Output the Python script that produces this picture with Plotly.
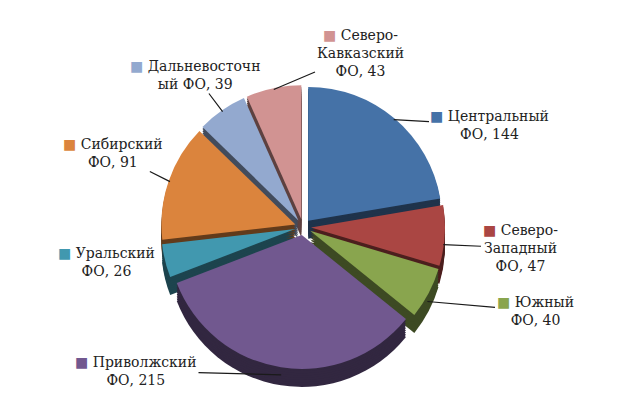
import plotly.graph_objects as go
import numpy as np

# data
regions = ["Центральный", "Северо-Западный", "Южный", "Приволжский",
           "Уральский", "Сибирский", "Дальневосточный", "Северо-Кавказский"]
counts = [144, 47, 40, 215, 26, 91, 39, 43]
# label text as wrapped in the original
label_lines = [
    ["Центральный", "ФО, 144"],
    ["Северо-", "Западный", "ФО, 47"],
    ["Южный", "ФО, 40"],
    ["Приволжский", "ФО, 215"],
    ["Уральский", "ФО, 26"],
    ["Сибирский", "ФО, 91"],
    ["Дальневосточн", "ый ФО, 39"],
    ["Северо-", "Кавказский", "ФО, 43"],
]

colors = ["#4572A7", "#AA4643", "#89A54E", "#71588F",
          "#4198AF", "#DB843D", "#93A9CF", "#D19392"]

# page / pie geometry (pixels)
W, H = 619, 417
CX, CY = 295, 219
HALF = 142          # half of domain size
PULL = 0.06
DEPTH = 18
R = HALF / (1 + PULL)

# where label blocks sit (pixel centres) and whether they get a leader line
label_px = [(482, 117), (512, 240), (527, 303), (128, 363),
            (98, 254), (105, 145), (187, 67), (352, 45)]
leader = [True, True, True, True, False, True, True, True]

FONT = dict(family="DejaVu Serif", size=14, color="#222222")


def darken(hx, f):
    r, g, b = int(hx[1:3], 16), int(hx[3:5], 16), int(hx[5:7], 16)
    return "rgb(%d,%d,%d)" % (r * f, g * f, b * f)


def domain(cy):
    return dict(x=[(CX - HALF) / W, (CX + HALF) / W],
                y=[1 - (cy + HALF) / H, 1 - (cy - HALF) / H])


fig = go.Figure()

# side wall: a stack of darker copies pushed down
for off in np.linspace(DEPTH, 2, 8):
    fig.add_trace(go.Pie(
        values=counts, labels=regions, sort=False, direction="clockwise",
        rotation=0, pull=PULL, textinfo="none", hoverinfo="skip",
        marker=dict(colors=[darken(c, 0.45) for c in colors], line=dict(width=0)),
        domain=domain(CY + off), showlegend=False,
    ))

# top face
fig.add_trace(go.Pie(
    values=counts, labels=regions, sort=False, direction="clockwise",
    rotation=0, pull=PULL, textinfo="none",
    marker=dict(colors=colors, line=dict(width=0)),
    domain=domain(CY), showlegend=False,
))

# labels with coloured square and leader lines to slice edge
total = sum(counts)
start = 0
for i, v in enumerate(counts):
    mid = np.radians((start + v / 2) / total * 360)
    start += v
    rt = R * (1 + PULL) * 0.99
    tx = CX + rt * np.sin(mid)
    ty = CY - rt * np.cos(mid)
    if np.cos(mid) < 0:
        ty += DEPTH * 0.5
    lines = list(label_lines[i])
    lines[0] = "<span style='color:%s'>■</span> %s" % (colors[i], lines[0])
    text = "<br>".join(lines)
    lx, ly = label_px[i]
    if leader[i]:
        fig.add_annotation(x=tx / W, y=1 - ty / H, xref="paper", yref="paper",
                           ax=lx - tx, ay=ly - ty, axref="pixel", ayref="pixel",
                           text=text, showarrow=True, arrowhead=0,
                           arrowwidth=1.2, arrowcolor="#1a1a1a",
                           align="center", standoff=0, startstandoff=0,
                           font=FONT)
    else:
        fig.add_annotation(x=lx / W, y=1 - ly / H, xref="paper", yref="paper",
                           xanchor="center", yanchor="middle",
                           text=text, showarrow=False, align="center", font=FONT)

fig.update_layout(
    width=W, height=H,
    margin=dict(l=0, r=0, t=0, b=0),
    paper_bgcolor="white",
    plot_bgcolor="white",
    font=FONT,
)

fig.write_html("out.html")
